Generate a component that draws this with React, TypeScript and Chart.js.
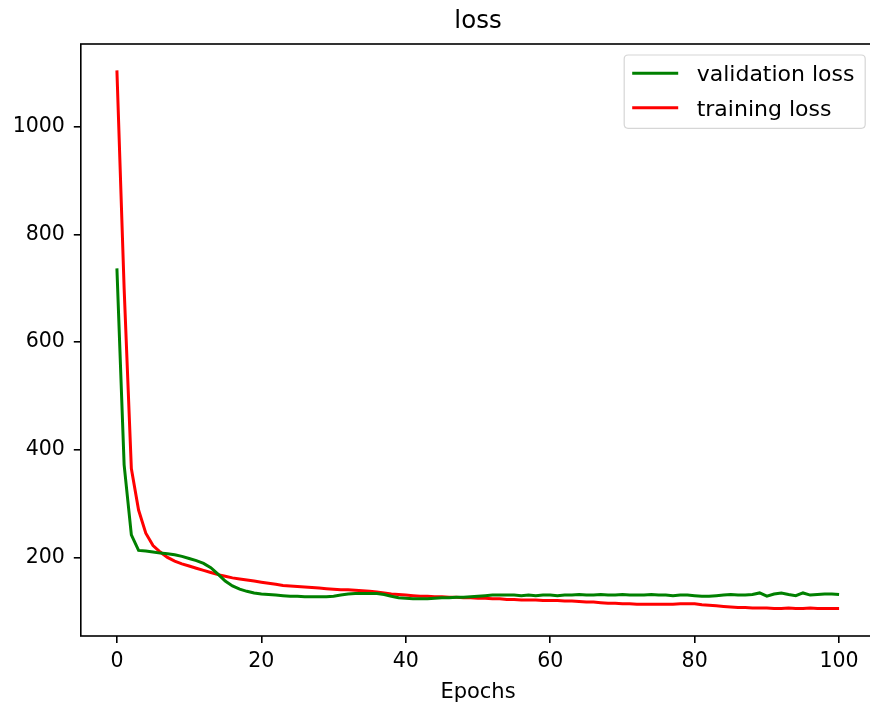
import React, { useEffect, useRef } from "react";
import { Chart, registerables } from "chart.js";

Chart.register(...registerables);

const epochs: number[] = Array.from({ length: 101 }, (_, i) => i);

const validationLoss: number[] = [
  737, 372, 242, 213, 212, 210, 208, 207, 205, 202,
  198, 194, 189, 181, 169, 156, 147, 141, 137, 134,
  132, 131, 130, 129, 128, 128, 127, 127, 127, 127,
  128, 130, 132, 133, 133, 133, 133, 131, 128, 125,
  124, 123, 123, 123, 124, 125, 125, 126, 126, 127,
  128, 129, 130, 130, 130, 130, 129, 130, 129, 130,
  130, 129, 130, 130, 131, 130, 130, 131, 130, 130,
  131, 130, 130, 130, 131, 130, 130, 129, 130, 130,
  129, 128, 128, 129, 130, 131, 130, 130, 131, 134,
  128, 132, 134, 131, 129, 134, 130, 131, 132, 132,
  131,
];

const trainingLoss: number[] = [
  1105, 700, 365, 288, 245, 222, 210, 200, 193, 188,
  184, 180, 176, 172, 168, 165, 162, 160, 158, 156,
  154, 152, 150, 148, 147, 146, 145, 144, 143, 142,
  141, 140, 140, 139, 138, 137, 136, 134, 132, 131,
  130, 129, 128, 128, 127, 127, 126, 126, 125, 125,
  124, 124, 123, 123, 122, 122, 121, 121, 121, 120,
  120, 120, 119, 119, 118, 117, 117, 116, 115, 115,
  114, 114, 113, 113, 113, 113, 113, 113, 114, 114,
  114, 112, 111, 110, 109, 108, 107, 107, 106, 106,
  106, 105, 105, 106, 105, 105, 106, 105, 105, 105,
  105,
];

const xTicks: number[] = [0, 20, 40, 60, 80, 100];
const yTicks: number[] = [200, 400, 600, 800, 1000];

const FONT = "'DejaVu Sans', sans-serif";
const TEXT = "#000000";

const framePlugin = {
  id: "mplFrameLegend",
  afterDatasetsDraw(chart: any) {
    const ctx = chart.ctx;
    const { left, right, top, bottom } = chart.chartArea;
    ctx.save();
    // spines
    ctx.strokeStyle = "#000";
    ctx.lineWidth = 1.6;
    ctx.strokeRect(left, top, right - left, bottom - top);

    // legend
    const boxRight = right - 10;
    const boxLeft = boxRight - 241;
    const boxTop = top + 11;
    const boxH = 73.3;
    const r = 4;
    ctx.beginPath();
    ctx.moveTo(boxLeft + r, boxTop);
    ctx.lineTo(boxRight - r, boxTop);
    ctx.quadraticCurveTo(boxRight, boxTop, boxRight, boxTop + r);
    ctx.lineTo(boxRight, boxTop + boxH - r);
    ctx.quadraticCurveTo(boxRight, boxTop + boxH, boxRight - r, boxTop + boxH);
    ctx.lineTo(boxLeft + r, boxTop + boxH);
    ctx.quadraticCurveTo(boxLeft, boxTop + boxH, boxLeft, boxTop + boxH - r);
    ctx.lineTo(boxLeft, boxTop + r);
    ctx.quadraticCurveTo(boxLeft, boxTop, boxLeft + r, boxTop);
    ctx.closePath();
    ctx.fillStyle = "rgba(255,255,255,0.8)";
    ctx.fill();
    ctx.strokeStyle = "#d6d6d6";
    ctx.lineWidth = 1.2;
    ctx.stroke();

    const rows = [boxTop + 18.3, boxTop + 52.7];
    chart.data.datasets.forEach((ds: any, i: number) => {
      const y = rows[i];
      ctx.beginPath();
      ctx.strokeStyle = ds.borderColor;
      ctx.lineWidth = 3;
      ctx.moveTo(boxLeft + 8, y);
      ctx.lineTo(boxLeft + 54, y);
      ctx.stroke();
      ctx.fillStyle = TEXT;
      ctx.font = `22px ${FONT}`;
      ctx.textAlign = "left";
      ctx.textBaseline = "alphabetic";
      ctx.fillText(ds.label, boxLeft + 72.5, y + 8);
    });
    ctx.restore();
  },
};

export default function App() {
  const ref = useRef<HTMLCanvasElement | null>(null);

  useEffect(() => {
    if (!ref.current) return;
    const chart = new Chart(ref.current, {
      type: "line",
      data: {
        labels: epochs,
        datasets: [
          {
            label: "validation loss",
            data: epochs.map((e, i) => ({ x: e, y: validationLoss[i] })),
            borderColor: "#008000",
            backgroundColor: "#008000",
            borderWidth: 3,
            pointRadius: 0,
            tension: 0,
            fill: false,
          },
          {
            label: "training loss",
            data: epochs.map((e, i) => ({ x: e, y: trainingLoss[i] })),
            borderColor: "#ff0000",
            backgroundColor: "#ff0000",
            borderWidth: 3,
            pointRadius: 0,
            tension: 0,
            fill: false,
          },
        ],
      },
      options: {
        responsive: false,
        animation: false,
        devicePixelRatio: 1,
        layout: { padding: { left: 0, right: 4.8, top: 0, bottom: 0 } },
        plugins: {
          legend: { display: false },
          tooltip: { enabled: false },
          title: {
            display: true,
            text: "loss",
            fullSize: false,
            color: TEXT,
            font: { family: FONT, size: 24.5, weight: "normal", lineHeight: 1.2 },
            padding: { top: 7, bottom: 7.6 },
          },
        },
        scales: {
          x: {
            type: "linear",
            min: -5,
            max: 105,
            afterBuildTicks: (s: any) => {
              s.ticks = xTicks.map((v) => ({ value: v }));
            },
            afterFit: (s: any) => {
              s.height = 72;
            },
            border: { display: false },
            grid: {
              display: true,
              drawOnChartArea: false,
              drawTicks: true,
              tickLength: 7,
              color: "#000",
              lineWidth: 1.6,
            },
            ticks: {
              autoSkip: false,
              maxRotation: 0,
              padding: 6,
              color: TEXT,
              font: { family: FONT, size: 20.5 },
              callback: (v: any) => String(v),
            },
            title: {
              display: true,
              text: "Epochs",
              color: TEXT,
              font: { family: FONT, size: 21 },
              padding: { top: 0, bottom: 3 },
            },
          },
          y: {
            type: "linear",
            min: 54,
            max: 1154,
            afterBuildTicks: (s: any) => {
              s.ticks = yTicks.map((v) => ({ value: v }));
            },
            afterFit: (s: any) => {
              s.width = 80.8;
            },
            border: { display: false },
            grid: {
              display: true,
              drawOnChartArea: false,
              drawTicks: true,
              tickLength: 7,
              color: "#000",
              lineWidth: 1.6,
            },
            ticks: {
              autoSkip: false,
              padding: 9,
              color: TEXT,
              font: { family: FONT, size: 20.5 },
              callback: (v: any) => String(v),
            },
          },
        },
      },
      plugins: [framePlugin],
    });
    return () => chart.destroy();
  }, []);

  return (
    <div
      style={{
        position: "fixed",
        left: 0,
        top: 0,
        width: 870,
        height: 708,
        overflow: "hidden",
        background: "#fff",
      }}
    >
      <canvas ref={ref} width={880} height={708} style={{ display: "block" }} />
    </div>
  );
}
